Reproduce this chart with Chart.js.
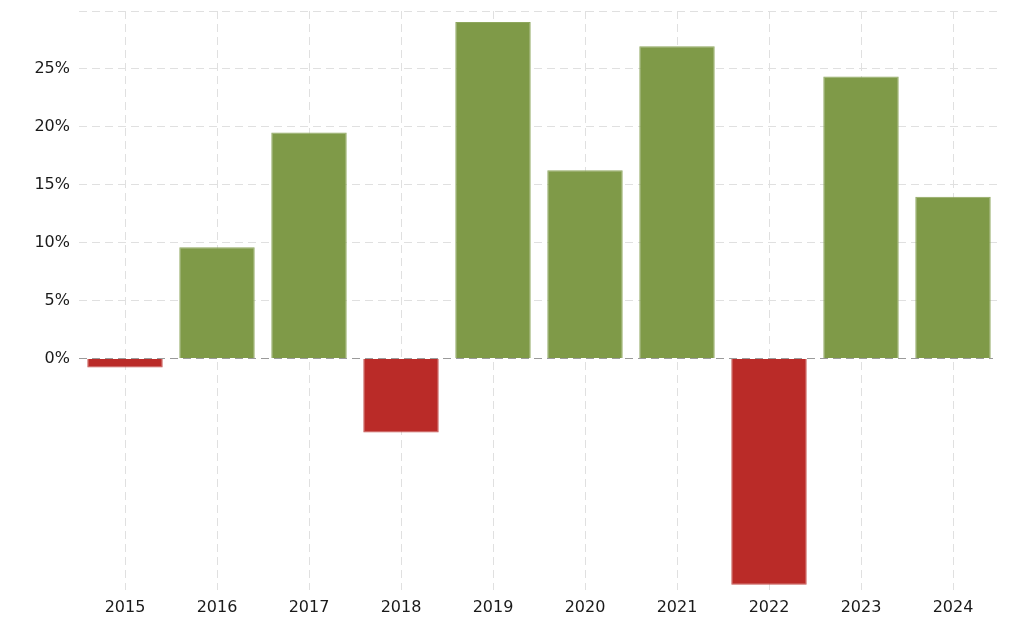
<!DOCTYPE html>
<html>
<head>
<meta charset="utf-8">
<script src="https://cdn.jsdelivr.net/npm/chart.js@4"></script>
<style>
  html, body { margin: 0; padding: 0; background: #fff; }
  #wrap { width: 1024px; height: 624px; }
</style>
</head>
<body>
<div id="wrap"><canvas id="chart" width="1024" height="624"></canvas></div>
<script>
const years = ['2015', '2016', '2017', '2018', '2019', '2020', '2021', '2022', '2023', '2024'];
const returns = [-0.78, 9.6, 19.5, -6.4, 29.05, 16.25, 26.95, -19.55, 24.35, 13.95];
const yTicks = [0, 5, 10, 15, 20, 25];

const green = '#7f9a48';
const red = '#ba2b28';
const barColors = returns.map(v => v < 0 ? red : green);
const barBorders = returns.map(v => v < 0 ? '#c4504d' : '#8ea75e');

// dashed zero line drawn over the bars
const zeroLine = {
    id: 'zeroLine',
    afterDatasetsDraw(chart) {
        const { ctx, chartArea, scales } = chart;
        const y = Math.round(scales.y.getPixelForValue(0)) + 0.5;
        ctx.save();
        ctx.strokeStyle = '#9a9a9a';
        ctx.lineWidth = 1;
        ctx.setLineDash([8, 5]);
        ctx.beginPath();
        ctx.moveTo(chartArea.left, y);
        ctx.lineTo(chartArea.right - 6, y);
        ctx.stroke();
        ctx.restore();
    }
};

const font = { family: '"DejaVu Sans", Verdana, sans-serif', size: 16 };

new Chart(document.getElementById('chart').getContext('2d'), {
    type: 'bar',
    data: {
        labels: years,
        datasets: [{
            data: returns,
            backgroundColor: barColors,
            borderColor: barBorders,
            borderWidth: 1,
            barPercentage: 0.82,
            categoryPercentage: 1
        }]
    },
    options: {
        responsive: false,
        animation: false,
        layout: { padding: { left: 0, right: 25, top: 11, bottom: 0 } },
        plugins: {
            legend: { display: false },
            tooltip: { enabled: false }
        },
        scales: {
            x: {
                grid: {
                    offset: false,
                    color: '#e0e0e0',
                    drawTicks: false
                },
                border: { display: false, dash: [8, 5] },
                ticks: { color: '#1a1a1a', font, padding: 8 },
                afterFit(scale) { scale.height = 34; }
            },
            y: {
                min: -20,
                max: 30,
                grid: {
                    color: ctx => (ctx.tick && ctx.tick.value > 0) ? '#e0e0e0' : 'rgba(0,0,0,0)',
                    drawTicks: false
                },
                border: { display: false, dash: [8, 5] },
                ticks: {
                    stepSize: 5,
                    color: '#1a1a1a',
                    font,
                    padding: 9,
                    callback: v => yTicks.includes(v) ? v + '%' : ''
                },
                afterFit(scale) {
                    scale.width = 79;
                    scale.paddingTop = 0;
                    scale.paddingBottom = 0;
                }
            }
        }
    },
    plugins: [zeroLine]
});
</script>
</body>
</html>
